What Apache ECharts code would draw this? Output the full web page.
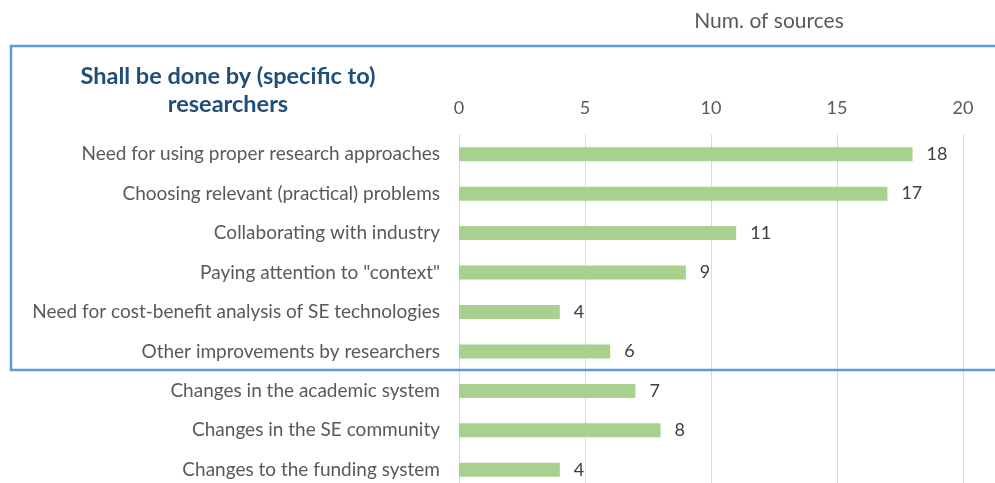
<!DOCTYPE html>
<html><head><meta charset="utf-8">
<script src="https://cdn.jsdelivr.net/npm/echarts@6/dist/echarts.min.js"></script>
<style>html,body{margin:0;padding:0;background:#fff}#c{width:995px;height:483px}</style>
</head><body><div id="c"></div>
<script>
const categories = [
  'Need for using proper research approaches',
  'Choosing relevant (practical) problems',
  'Collaborating with industry',
  'Paying attention to "context"',
  'Need for cost-benefit analysis of SE technologies',
  'Other improvements by researchers',
  'Changes in the academic system',
  'Changes in the SE community',
  'Changes to the funding system'
];
const values = [18, 17, 11, 9, 4, 6, 7, 8, 4];
const xTicks = { min: 0, max: 20, interval: 5 };
const axisTitle = 'Num. of sources';
const boxTitleLines = ['Shall be done by (specific to)', 'researchers'];

const FONT = 'Lato';
const chart = echarts.init(document.getElementById('c'));
chart.setOption({
  animation: false,
  grid: { left: 459, width: 504, top: 134.5, height: 355, containLabel: false, outerBoundsMode: 'none' },
  xAxis: {
    type: 'value', position: 'top', min: xTicks.min, max: xTicks.max, interval: xTicks.interval,
    axisLine: { show: false }, axisTick: { show: false },
    axisLabel: { color: '#595959', fontSize: 18, fontFamily: FONT, margin: 17 },
    splitLine: { lineStyle: { color: '#d9d9d9', width: 1 } }
  },
  yAxis: {
    type: 'category', data: categories, inverse: true,
    axisLine: { show: true, lineStyle: { color: '#d9d9d9' } }, axisTick: { show: false },
    axisLabel: { color: '#595959', fontSize: 19, fontFamily: FONT, margin: 19 }
  },
  series: [{
    type: 'bar', data: values, barWidth: 14,
    itemStyle: { color: '#a9d18e' },
    label: { show: true, position: 'right', distance: 14, color: '#404040', fontSize: 18, fontFamily: FONT }
  }],
  graphic: [
    { type: 'rect', shape: { x: 11, y: 46, width: 1000, height: 324 }, style: { fill: null, stroke: '#5b9bd5', lineWidth: 2.5 }, z: 10 },
    { type: 'text', x: 228, y: 76, style: { text: boxTitleLines[0], align: 'center', verticalAlign: 'middle', fill: '#1f4e79', font: 'bold 23.5px ' + FONT } },
    { type: 'text', x: 228, y: 104, style: { text: boxTitleLines[1], align: 'center', verticalAlign: 'middle', fill: '#1f4e79', font: 'bold 23.5px ' + FONT } },
    { type: 'text', x: 769, y: 21, style: { text: axisTitle, align: 'center', verticalAlign: 'middle', fill: '#595959', font: '21px ' + FONT } }
  ]
});
</script></body></html>
